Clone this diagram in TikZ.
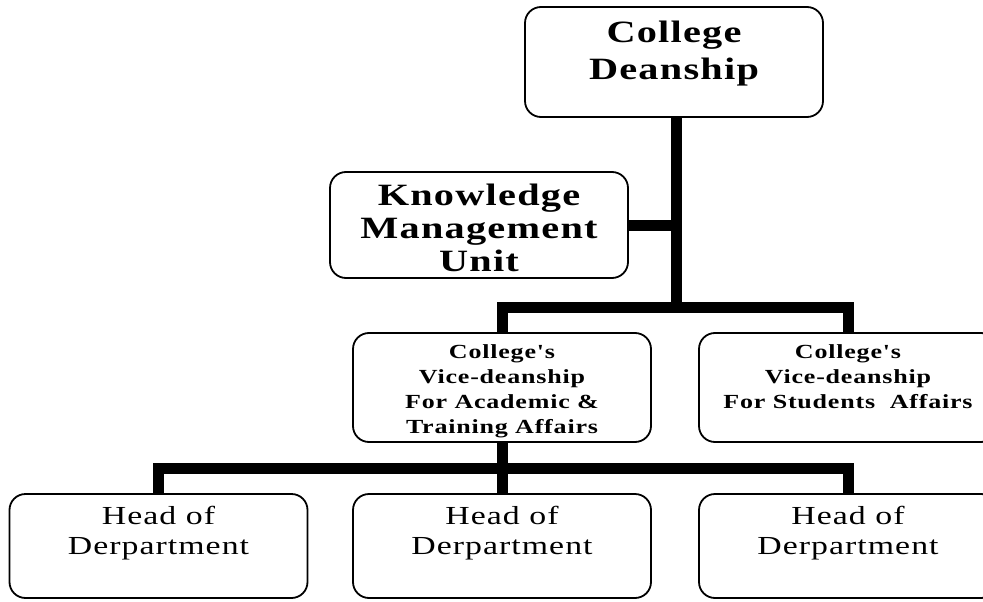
\documentclass[tikz,border=0pt]{standalone}
\usepackage{fontspec}
\newfontfamily\chartfont{Liberation Serif}[FakeStretch=1.3,LetterSpace=4]
\usetikzlibrary{positioning}

\begin{document}
\begin{tikzpicture}[x=1pt,y=-1pt]
	\useasboundingbox (0,0) rectangle (983,602);
	\clip (0,0) rectangle (983,602);
	\begin{scope}[every node/.style={rectangle,rounded corners=16pt,draw,line width=1.8pt,minimum width=298pt}]
		\node[minimum height=110pt] (dean) at (674,62) {};
		\node[minimum height=106pt] (kmu) at (479,225) {};
		\node[minimum height=109pt] (acad) at (502,387.5) {};
		\node[minimum height=109pt] (stud) at (848,387.5) {};
		\node[minimum height=104pt] (hod1) at (158.5,546) {};
		\node[minimum height=104pt] (hod2) at (502,546) {};
		\node[minimum height=104pt] (hod3) at (848,546) {};
	\end{scope}
	
	\begin{scope}[every node/.style={align=center,inner sep=0pt}]
		\node[below=15pt of dean.north,font=\chartfont\bfseries\fontsize{31}{37}\selectfont] (deantxt) {College\\Deanship};
		\node[below=13pt of kmu.north,font=\chartfont\bfseries\fontsize{31}{33}\selectfont] (kmutxt) {Knowledge\\Management\\Unit};
		\node[below=12pt of acad.north,font=\chartfont\bfseries\fontsize{20}{25}\selectfont] (acadtxt) {College's\\Vice-deanship\\For Academic \&\\Training Affairs};
		\node[below=12pt of stud.north,font=\chartfont\bfseries\fontsize{20}{25}\selectfont] (studtxt) {College's\\Vice-deanship\\For Students~ Affairs};
		\node[below=13pt of hod1.north,font=\chartfont\fontsize{26}{30}\selectfont] (hod1txt) {Head of\\Derpartment};
		\node[below=13pt of hod2.north,font=\chartfont\fontsize{26}{30}\selectfont] (hod2txt) {Head of\\Derpartment};
		\node[below=13pt of hod3.north,font=\chartfont\fontsize{26}{30}\selectfont] (hod3txt) {Head of\\Derpartment};
	\end{scope}
	
	\begin{scope}[line width=11pt]
		\coordinate (topbus) at (676,307);
		\coordinate (lowbus) at (502,468);
		\draw (dean.south -| topbus) -- (topbus);
		\draw (kmu.east) -- (kmu.east -| topbus);
		\draw (acad.north) |- (topbus) -| (stud.north);
		\draw (acad.south) -- (hod2.north);
		\draw (hod1.north) |- (lowbus) -| (hod3.north);
	\end{scope}
\end{tikzpicture}
\end{document}
